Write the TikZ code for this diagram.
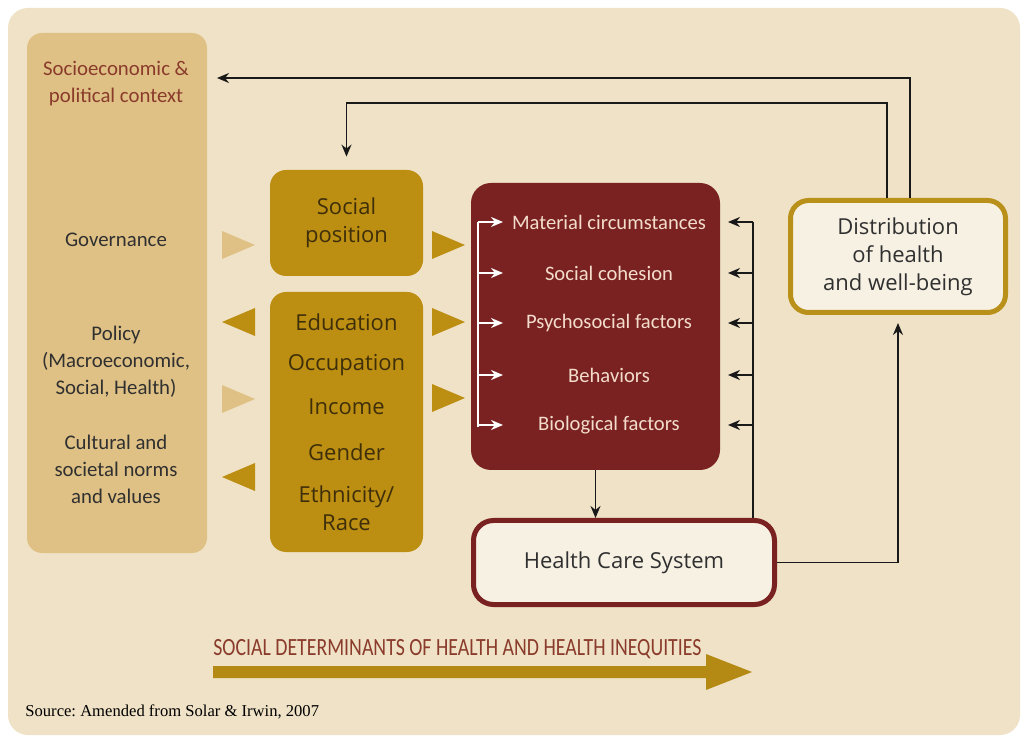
\documentclass[tikz,border=0pt]{standalone}
\usepackage{fontspec}
\setmainfont{Carlito}
\newfontfamily\opensans{Open Sans}
\newfontfamily\timesfont{Liberation Serif}
\usetikzlibrary{arrows.meta}
\definecolor{bgcream}{HTML}{EFE2C6}
\definecolor{ctxtan}{HTML}{DFC185}
\definecolor{gold}{HTML}{BC8E12}
\definecolor{golddark}{HTML}{3E2F0A}
\definecolor{maroon}{HTML}{7A2222}
\definecolor{pinkwhite}{HTML}{F3DCCB}
\definecolor{rust}{HTML}{8A3B2B}
\definecolor{boxcream}{HTML}{F7F1E4}
\definecolor{distgold}{HTML}{B8901A}
\definecolor{arrowgold}{HTML}{B58A14}
\definecolor{inkgray}{HTML}{303030}
\frenchspacing

\begin{document}
\begin{tikzpicture}[x=0.5pt, y=-0.5pt,
	ctxtext/.style={align=center, text=inkgray, font=\fontsize{10.4}{13.5}\selectfont},
	goldbox/.style={fill=gold, rounded corners=8pt, minimum width=76.5pt},
	goldtext/.style={align=center, text=golddark, font=\opensans\fontsize{11}{14}\selectfont},
	factor/.style={text=pinkwhite, font=\fontsize{10.3}{12}\selectfont},
	outbox/.style={fill=boxcream, line width=2.5pt, align=center, text=inkgray, font=\opensans\fontsize{11}{14}\selectfont},
	fb/.style={line width=0.8pt, draw=black!90, -{Stealth[length=6pt, width=5pt]}},
	wht/.style={line width=0.8pt, draw=white, -{Stealth[length=6pt, width=5pt]}}]
	\useasboundingbox (0,0) rectangle (1023,737);
	\fill[white] (0,0) rectangle (1023,737);
	\fill[bgcream, rounded corners=10pt] (8,8) rectangle (1020,735);

	% context column
	\node[fill=ctxtan, rounded corners=7.5pt, minimum width=90pt, minimum height=260pt] (ctx) at (117,293) {};
	\node[ctxtext, text=rust] (ctxtitle) at (116,84) {Socioeconomic \&\\political context};
	\node[ctxtext] (gov) at (116,240) {Governance};
	\node[ctxtext] (pol) at (116,362) {Policy\\(Macroeconomic,\\Social, Health)};
	\node[ctxtext] (cul) at (116,469) {Cultural and\\societal norms\\and values};

	% structural determinants
	\node[goldbox, goldtext, minimum height=53pt] (spos) at (346.5,223) {Social\\position};
	\node[goldbox, minimum height=130pt] (ses) at (346.5,422) {};
	\node[goldtext] (edu) at (346.5,322) {Education};
	\node[goldtext] (occ) at (346.5,365) {Occupation};
	\node[goldtext] (inc) at (346.5,407) {Income};
	\node[goldtext] (gen) at (346.5,452) {Gender};
	\node[goldtext] (eth) at (346.5,508) {Ethnicity/\\Race};

	\foreach \y in {245,399} \fill[ctxtan] (222,\y-14) -- (255,\y) -- (222,\y+14) -- cycle;
	\foreach \y in {322,477} \fill[gold] (255,\y-14) -- (222,\y) -- (255,\y+14) -- cycle;
	\foreach \y in {245,322,398} \fill[gold] (432,\y-14) -- (465,\y) -- (432,\y+14) -- cycle;

	% intermediary determinants
	\node[fill=maroon, rounded corners=10pt, minimum width=124.5pt, minimum height=143.5pt] (ic) at (595.5,326.5) {};
	\node[factor] (mat) at (609,222) {Material circumstances};
	\node[factor] (coh) at (609,273) {Social cohesion};
	\node[factor] (psy) at (609,323) {Psychosocial factors};
	\node[factor] (beh) at (609,375) {Behaviors};
	\node[factor] (bio) at (609,425) {Biological factors};
	\coordinate (wtop) at (478,222);
	\coordinate (wbot) at (478,427);
	\draw[line width=0.8pt, white] (wtop) -- (wbot);
	\foreach \n in {mat,coh,psy,beh,bio} \draw[wht] (wtop |- \n) -- ++(25,0);

	\node[outbox, draw=maroon, rounded corners=10pt, minimum width=150.5pt, minimum height=42pt] (hcs) at (624,562.5) {Health Care System};
	\node[outbox, draw=distgold, rounded corners=9pt, minimum width=107.5pt, minimum height=56pt] (dist) at (898,256.5) {Distribution\\of health\\and well-being};

	% feedback lines
	\coordinate (rtop) at (753,222);
	\draw[line width=0.8pt, black!90] (rtop) -- (rtop |- hcs.north);
	\foreach \n in {mat,coh,psy,beh,bio} \draw[fb] (rtop |- \n) -- ++(-25,0);
	\draw[fb] (ic.south) -- (ic.south |- hcs.north);
	\draw[fb, shorten >=4pt] (hcs.east) -| (dist.south);
	\coordinate (top1) at (217,78);
	\draw[fb] ([xshift=6pt]dist.north) |- (top1);
	\coordinate (top2) at (346.5,103);
	\draw[fb, shorten >=6.5pt] ([xshift=-5.5pt]dist.north) |- (top2) -- (spos.north);

	% bottom arrow
	\fill[arrowgold] (213,666) -- (706,666) -- (706,654) -- (752,672) -- (706,690) -- (706,678) -- (213,678) -- cycle;
	\node[anchor=south west, inner sep=0pt, text=rust, font=\fontsize{9.9}{11}\selectfont] (sdh) at (213,659) {\scalebox{1}[1.25]{SOCIAL DETERMINANTS OF HEALTH AND HEALTH INEQUITIES}};
	\node[anchor=west, inner sep=0pt, font=\timesfont\fontsize{8.3}{10}\selectfont] (src) at (25,712) {Source: Amended from Solar \& Irwin, 2007};
\end{tikzpicture}
\end{document}
